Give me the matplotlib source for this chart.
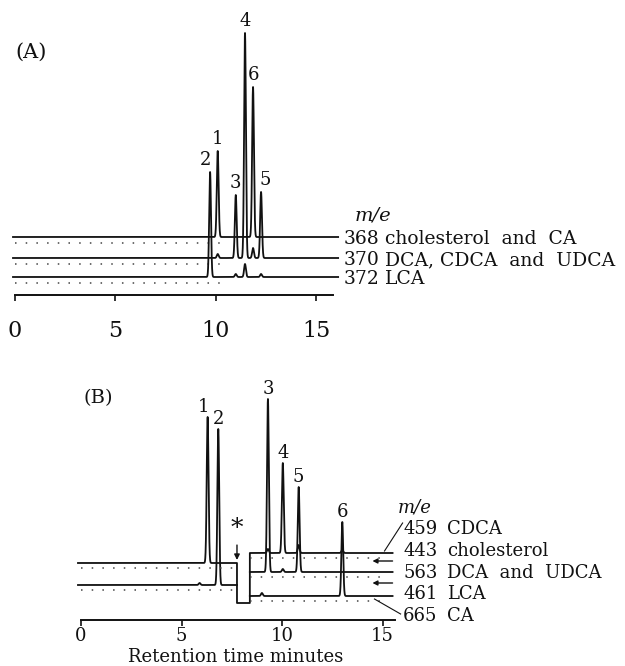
import numpy as np
import matplotlib
matplotlib.use("Agg")
import matplotlib.pyplot as plt

plt.rcParams['font.family'] = ['DejaVu Serif']
ink = '#111111'

# ---------------- panel (A) data ----------------
a_ticks = [0, 5, 10, 15]
a_mz = ["368", "370", "372"]
a_names = ["cholesterol  and  CA", "DCA, CDCA  and  UDCA", "LCA"]
a_base = [58, 37, 18]
a_peak_t = [[10.1, 11.86],
            [10.1, 11.0, 11.46, 11.86, 12.26],
            [9.72, 11.0, 11.46, 12.26]]
a_peak_h = [[86, 150],
            [4, 63, 225, 10, 66],
            [105, 3, 13, 3]]
# numbered peaks: (number, channel, index of peak in that channel)
a_num = ["1", "2", "3", "4", "5", "6"]
a_num_ch = [0, 2, 1, 1, 1, 0]
a_num_idx = [0, 0, 1, 2, 4, 1]

# ---------------- panel (B) data ----------------
b_ticks = [0, 5, 10, 15]
b_pre_base = [57, 35]            # 443 cholesterol, 461 LCA (before switch)
b_pre_peak_t = [[6.3], [5.9, 6.83]]
b_pre_peak_h = [[146], [2, 156]]
b_post_base = [67, 48, 24]       # 459 CDCA, 563 DCA/UDCA, 665 CA (after switch)
b_post_peak_t = [[9.3, 10.04, 10.83, 13.0],
                 [9.3, 10.04, 10.83],
                 [9.0, 13.0]]
b_post_peak_h = [[4, 90, 8, 3],
                 [173, 3, 85],
                 [3, 74]]
b_switch = [7.76, 8.4]
b_drop = 17
b_num = ["1", "2", "3", "4", "5", "6"]
b_num_t = [6.3, 6.83, 9.3, 10.04, 10.83, 13.0]
b_num_top = [203, 191, 221, 157, 133, 98]
b_mz = ["459", "443", "563", "461", "665"]
b_names = ["CDCA", "cholesterol", "DCA  and  UDCA", "LCA", "CA"]

sigma = 0.045


def trace(t, base, peak_t, peak_h):
    y = np.full_like(t, float(base))
    for pt, ph in zip(peak_t, peak_h):
        y += ph * np.exp(-0.5 * ((t - pt) / sigma) ** 2)
    return y


fig = plt.figure(figsize=(6.25, 6.66), dpi=100)

# ---------------- panel (A) ----------------
axA = fig.add_axes([0, 1 - 345 / 666, 1, 345 / 666])
axA.set_xlim(-15 / 20.07, 610 / 20.07)
axA.set_ylim(-50, 295)

tA = np.linspace(-0.1, 16.1, 8000)
for base, pt, ph in zip(a_base, a_peak_t, a_peak_h):
    axA.plot(tA, trace(tA, base, pt, ph), color=ink, lw=1.3)
    axA.plot([0, 10.6], [base - 6, base - 6], color='#444444', lw=1.1,
             linestyle=(0, (1, 6)))

for num, ch, idx in zip(a_num, a_num_ch, a_num_idx):
    top = a_base[ch] + a_peak_h[ch][idx]
    dx = -3 if num == "2" else (3 if num == "5" else 0)
    axA.annotate(num, (a_peak_t[ch][idx], top), xytext=(dx, 2),
                 textcoords='offset points', ha='center', va='bottom',
                 fontsize=13, color=ink)

axA.text(16.9, a_base[0] + 22, "m/e", fontsize=14, style='italic',
         ha='left', va='center', color=ink)
for base, mz, name in zip(a_base, a_mz, a_names):
    axA.text(16.36, base - 2, mz, fontsize=13.5, ha='left', va='center', color=ink)
    axA.text(18.43, base - 2, name, fontsize=13.5, ha='left', va='center', color=ink)

axA.text(0.8, 243, "(A)", fontsize=15, ha='center', va='center', color=ink)

# ---------------- panel (B) ----------------
axB = fig.add_axes([0, 0, 1, 321 / 666])
axB.set_xlim(-81 / 20.1, 544 / 20.1)
axB.set_ylim(-46, 275)

t_pre = np.linspace(-0.15, b_switch[0], 5000)
t_post = np.linspace(b_switch[1], 15.5, 5000)

# 443 channel runs into the switching step and continues as 459
y_pre0 = trace(t_pre, b_pre_base[0], b_pre_peak_t[0], b_pre_peak_h[0])
y_post0 = trace(t_post, b_post_base[0], b_post_peak_t[0], b_post_peak_h[0])
tx = np.concatenate([t_pre, [b_switch[0], b_switch[1]], t_post])
ty = np.concatenate([y_pre0, [b_drop, b_drop], y_post0])
axB.plot(tx, ty, color=ink, lw=1.3)

axB.plot(t_pre, trace(t_pre, b_pre_base[1], b_pre_peak_t[1], b_pre_peak_h[1]),
         color=ink, lw=1.3)
for base, pt, ph in zip(b_post_base[1:], b_post_peak_t[1:], b_post_peak_h[1:]):
    axB.plot(t_post, trace(t_post, base, pt, ph), color=ink, lw=1.3)

for base in b_pre_base:
    axB.plot([0, b_switch[0]], [base - 5, base - 5], color='#444444', lw=1.1,
             linestyle=(0, (1, 6)))
for base in b_post_base:
    axB.plot([b_switch[1], 15.2], [base - 5, base - 5], color='#444444', lw=1.1,
             linestyle=(0, (1, 6)))

for num, t, top in zip(b_num, b_num_t, b_num_top):
    dx = -3 if num == "1" else 0
    axB.annotate(num, (t, top), xytext=(dx, 1), textcoords='offset points',
                 ha='center', va='bottom', fontsize=13, color=ink)

axB.annotate("*", xy=(b_switch[0], b_pre_base[0] + 3), xytext=(b_switch[0], 92),
             ha='center', va='center', fontsize=18, color=ink,
             arrowprops=dict(arrowstyle='-|>', lw=1, color=ink,
                             mutation_scale=8, shrinkA=2, shrinkB=0))

# right-hand labels
label_y = [91, 69, 47, 26, 4]
axB.text(15.77, 112, "m/e", fontsize=13, style='italic', ha='left',
         va='center', color=ink)
for y, mz, name in zip(label_y, b_mz, b_names):
    axB.text(16.02, y, mz, fontsize=13, ha='left', va='center', color=ink)
    axB.text(18.2, y, name, fontsize=13, ha='left', va='center', color=ink)

# leader for 459 and 665, arrows for the pre-switch channels
axB.plot([15.1, 16.0], [b_post_base[0] + 2, label_y[0] + 6], color=ink, lw=0.8)
axB.plot([14.6, 15.9], [b_post_base[2] - 3, label_y[4] + 2], color=ink, lw=0.8)
for base in b_pre_base:
    axB.annotate("", xy=(14.5, base + 2), xytext=(15.5, base + 2),
                 arrowprops=dict(arrowstyle='-|>', lw=1, color=ink,
                                 mutation_scale=7, shrinkA=0, shrinkB=0))

axB.text(0.85, 222, "(B)", fontsize=14, ha='center', va='center', color=ink)
axB.text(7.7, -37, "Retention time minutes", fontsize=13, ha='center',
         va='center', color=ink)

# time axes
for ax, ticks, end, size, pad in [(axA, a_ticks, 15.85, 16, 14), (axB, b_ticks, 15.6, 13, 1)]:
    for s in ['top', 'left', 'right']:
        ax.spines[s].set_visible(False)
    ax.spines['bottom'].set_position(('data', 0))
    ax.spines['bottom'].set_bounds(0, end)
    ax.spines['bottom'].set_linewidth(1.4)
    ax.spines['bottom'].set_color(ink)
    ax.set_xticks(ticks)
    ax.set_yticks([])
    ax.tick_params(axis='x', direction='out', length=4, width=1.2,
                   labelsize=size, pad=pad, colors=ink)
    ax.patch.set_alpha(0)

fig.savefig("out.png", dpi=100)
